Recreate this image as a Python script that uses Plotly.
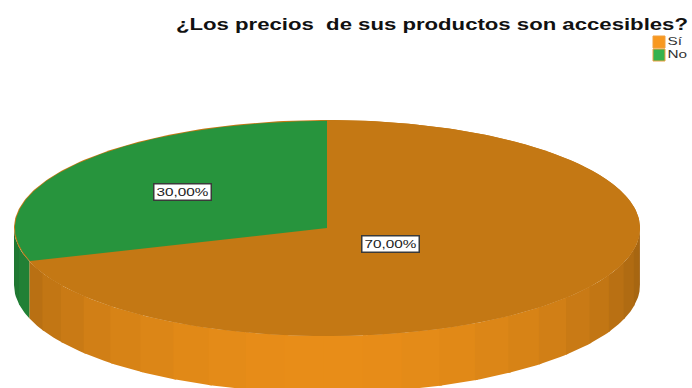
import numpy as np
import plotly.graph_objects as go

# Survey answers
categories = ["Sí", "No"]
percentages = [70.0, 30.0]
top_colors = ["#C47814", "#27943D"]
side_colors = ["#E88D18", "#2BA946"]
legend_colors = ["#F8981F", "#35B24E"]
title_text = "¿Los precios  de sus productos son accesibles?"

# Page and pie geometry, in pixels
WIDTH, HEIGHT = 692, 388
CX, CY, RX, RY = 327, 228, 313, 108
DEPTH = 57
FACET_DEG = 7.2
FACET_OVERLAP_DEG = 0.6
label_radii = [0.25, 0.57]


def rim(angles_deg):
    """Ellipse points for angles measured clockwise from 12 o'clock."""
    a = np.radians(angles_deg)
    return CX + RX * np.sin(a), CY - RY * np.cos(a)


def shaded(hex_color, factor):
    rgb = [int(hex_color[i:i + 2], 16) for i in (1, 3, 5)]
    return "rgb({},{},{})".format(*[round(c * factor) for c in rgb])


def polygon(xs, ys, color):
    return go.Scatter(x=xs, y=ys, mode="lines", fill="toself", fillcolor=color,
                      line=dict(width=0), hoverinfo="skip", showlegend=False)


fig = go.Figure()

# Slice angle ranges follow the percentages, ending at 12 o'clock
spans = []
start = 0.0
for p in percentages:
    spans.append((start, start + p * 3.6))
    start += p * 3.6

# Side wall: only the front half (90..270 degrees) can be seen.
# Facets slightly overlap the previous one so no seam shows between them.
for (a0, a1), base in zip(spans, side_colors):
    lo, hi = max(a0, 90.0), min(a1, 270.0)
    if lo >= hi:
        continue
    edges = [hi]
    while edges[-1] - FACET_DEG > lo:
        edges.append(edges[-1] - FACET_DEG)
    edges.append(lo)
    if base == side_colors[1]:
        edges = [hi, 259.2, lo]
    for e1, e0 in zip(edges[:-1], edges[1:]):
        upper = e1 if e1 == hi else e1 + FACET_OVERLAP_DEG
        x, y = rim(np.linspace(e0, upper, 8))
        mid = np.radians((e0 + e1) / 2 - 180)
        fig.add_trace(polygon(np.r_[x, x[::-1]], np.r_[y, y[::-1] + DEPTH],
                              shaded(base, 0.68 + 0.32 * np.cos(mid))))

# Thin orange rim under the top face
x, y = rim(np.linspace(0, 360, 361))
fig.add_trace(polygon(x, y, top_colors[0]))

# Top face
for (a0, a1), color in zip(spans, top_colors):
    x, y = rim(np.linspace(a0, a1, 200))
    if a0 > 0:
        # keep the hairline of the rim showing around this slice
        x = CX + (x - CX) * 0.997
        y = CY + (y - CY) * 0.992
    fig.add_trace(polygon(np.r_[CX, x, CX], np.r_[CY, y, CY], color))

# Value labels in white boxes
annotations = []
for (a0, a1), p, f in zip(spans, percentages, label_radii):
    a = np.radians((a0 + a1) / 2)
    annotations.append(dict(
        x=CX + f * RX * np.sin(a), y=CY - f * RY * np.cos(a),
        xref="x", yref="y", showarrow=False,
        text=f"{p:.2f}%".replace(".", ","), width=56, height=15,
        font=dict(family="Liberation Sans", size=11.5, color="#222222"),
        bgcolor="#FFFFFF", bordercolor="#3A3A3A", borderwidth=1.5, borderpad=0,
    ))

# Legend entries at the upper right
for name, color, ly in zip(categories, legend_colors, [42, 55]):
    fig.add_trace(go.Scatter(
        x=[659], y=[ly], mode="markers+text", text=[name], textposition="middle right",
        textfont=dict(family="Liberation Sans", size=11.5, color="#333333"),
        marker=dict(symbol="square", size=12, color=color,
                    line=dict(color="#F0A040", width=1)),
        hoverinfo="skip", showlegend=False, cliponaxis=False,
    ))

fig.update_layout(
    width=WIDTH, height=HEIGHT, margin=dict(l=0, r=0, t=0, b=0),
    paper_bgcolor="white", plot_bgcolor="white", showlegend=False,
    xaxis=dict(range=[0, WIDTH], visible=False, fixedrange=True),
    yaxis=dict(range=[HEIGHT, 0], visible=False, fixedrange=True),
    annotations=annotations + [dict(
        x=432, y=24, xref="x", yref="y", showarrow=False, text=f"<b>{title_text}</b>",
        font=dict(family="Liberation Sans", size=16, color="#111111"),
    )],
)

# The text is set in a horizontally wide cut, so stretch the glyphs sideways
widen = """
var root = document.querySelector('.plotly-graph-div');
root.querySelectorAll('.annotation-text, .textpoint text').forEach(function (t) {
    var len = t.getComputedTextLength();
    t.setAttribute('lengthAdjust', 'spacingAndGlyphs');
    t.setAttribute('textLength', t.classList.contains('annotation-text') && len > 200 ? 512 : len * 1.33);
});
"""

fig.write_html("out.html", config=dict(displayModeBar=False), post_script=widen)
